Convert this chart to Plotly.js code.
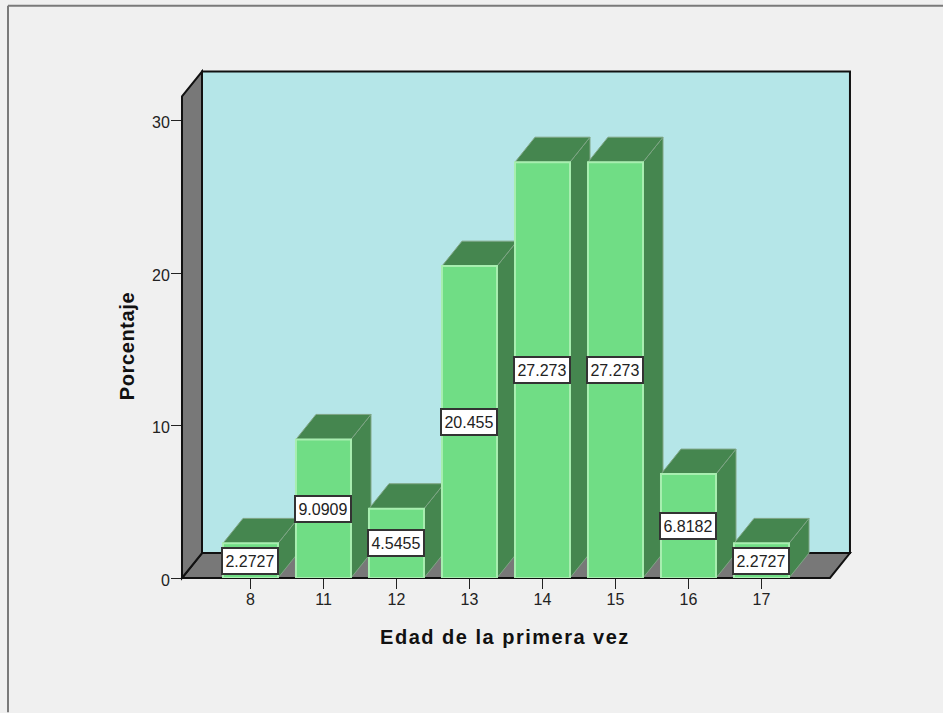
<!DOCTYPE html>
<html><head><meta charset="utf-8">
<script src="https://cdn.plot.ly/plotly-3.0.1.min.js"></script>
<style>html,body{margin:0;padding:0;background:#f0f0f0}#chart{width:943px;height:713px}
.xtitle{letter-spacing:1.5px}.ytitle{letter-spacing:.6px}
g.ytick{transform:translateY(2px)}
</style>
</head><body><div id="chart"></div>
<script>
const categories = ['8','11','12','13','14','15','16','17'];
const percentages = [2.2727,9.0909,4.5455,20.455,27.273,27.273,6.8182,2.2727];
const labels = ['2.2727','9.0909','4.5455','20.455','27.273','27.273','6.8182','2.2727'];
const positions = categories.map((c,i)=>i);

// Oblique projection, expressed in axis units
const W=943,H=713,L=182,R=828,T=113.5,B=578.5;
const xr=[-0.938,7.911], yr=[0,30.43];
const depthX=20/73, depthY=25/15.28, barW=55/73;
const floorEnd=7.938, wallTop=31.58;

const px=x=>(x-xr[0])/(xr[1]-xr[0]);
const py=y=>(y-yr[0])/(yr[1]-yr[0]);
const pathP=pts=>'M'+pts.map(p=>px(p[0]).toFixed(5)+','+py(p[1]).toFixed(5)).join('L')+'Z';
const pathD=pts=>'M'+pts.map(p=>p[0].toFixed(4)+','+p[1].toFixed(4)).join('L')+'Z';
const frameX=(8-L)/(R-L), frameY=(B-5)/(B-T), frameB=(B-713)/(B-T), frameR=(943-L)/(R-L);

const shapes=[];
const paperShape=(pts,fill,lw)=>shapes.push({type:'path',xref:'paper',yref:'paper',layer:'below',path:pathP(pts),fillcolor:fill,line:{color:'#111111',width:lw}});
const x0=xr[0];
// back wall, floor, left wall
paperShape([[x0+depthX,depthY],[x0+depthX,wallTop+depthY],[floorEnd+depthX,wallTop+depthY],[floorEnd+depthX,depthY]],'#b5e6e8',2);
paperShape([[x0,0],[floorEnd,0],[floorEnd+depthX,depthY],[x0+depthX,depthY]],'#787878',2);
paperShape([[x0,0],[x0,wallTop],[x0+depthX,wallTop+depthY],[x0+depthX,depthY]],'#787878',2);
// outer frame
shapes.push({type:'line',xref:'paper',yref:'paper',layer:'below',x0:frameX,x1:frameX,y0:frameB,y1:frameY,line:{color:'#7a7a7a',width:2}});
shapes.push({type:'line',xref:'paper',yref:'paper',layer:'below',x0:frameX,x1:frameR,y0:frameY,y1:frameY,line:{color:'#7a7a7a',width:2}});
// bar side and top faces
positions.forEach((p,i)=>{
  const v=percentages[i], l=p-barW/2, r=p+barW/2;
  const face=pts=>shapes.push({type:'path',xref:'x',yref:'y',layer:'below',path:pathD(pts),fillcolor:'#45864f',line:{color:'#7fa585',width:1}});
  face([[r,0],[r,v],[r+depthX,v+depthY],[r+depthX,depthY]]);
  face([[l,v],[r,v],[r+depthX,v+depthY],[l+depthX,v+depthY]]);
});

const annotations=positions.map((p,i)=>({
  x:p,y:percentages[i]/2,xref:'x',yref:'y',text:labels[i],showarrow:false,
  font:{family:'Liberation Sans, Arial, sans-serif',size:16,color:'#222222'},
  bgcolor:'#ffffff',bordercolor:'#333333',borderwidth:2,borderpad:0,width:54,height:24,align:'center',valign:'middle'
}));

const data=[{
  type:'bar',x:positions,y:percentages,width:barW,
  marker:{color:'#70dd85',line:{color:'#a8eeb0',width:2}},hoverinfo:'x+y'
}];
const font={family:'Liberation Sans, Arial, sans-serif',size:16,color:'#222222'};
const layout={
  width:W,height:H,margin:{l:L,r:W-R,t:T,b:H-B,pad:0},
  paper_bgcolor:'#f0f0f0',plot_bgcolor:'rgba(0,0,0,0)',showlegend:false,font,
  xaxis:{range:xr,tickmode:'array',tickvals:positions,ticktext:categories,ticks:'outside',ticklen:10,tickwidth:1,tickcolor:'#222',
    showgrid:false,zeroline:false,showline:false,tickfont:font,ticklabelstandoff:-3,
    title:{text:'Edad de la primera vez',font:{family:'Liberation Sans, Arial, sans-serif',size:20,color:'#111',weight:'bold'},standoff:22}},
  yaxis:{range:yr,tickmode:'array',tickvals:[0,10,20,30],ticks:'outside',ticklen:10,tickwidth:1,tickcolor:'#222',
    showgrid:false,zeroline:false,showline:false,tickfont:font,ticklabelstandoff:-2,
    title:{text:'Porcentaje',font:{family:'Liberation Sans, Arial, sans-serif',size:20,color:'#111',weight:'bold'},standoff:12}},
  shapes,annotations
};
Plotly.newPlot('chart',data,layout,{displayModeBar:false,staticPlot:true});
</script></body></html>
